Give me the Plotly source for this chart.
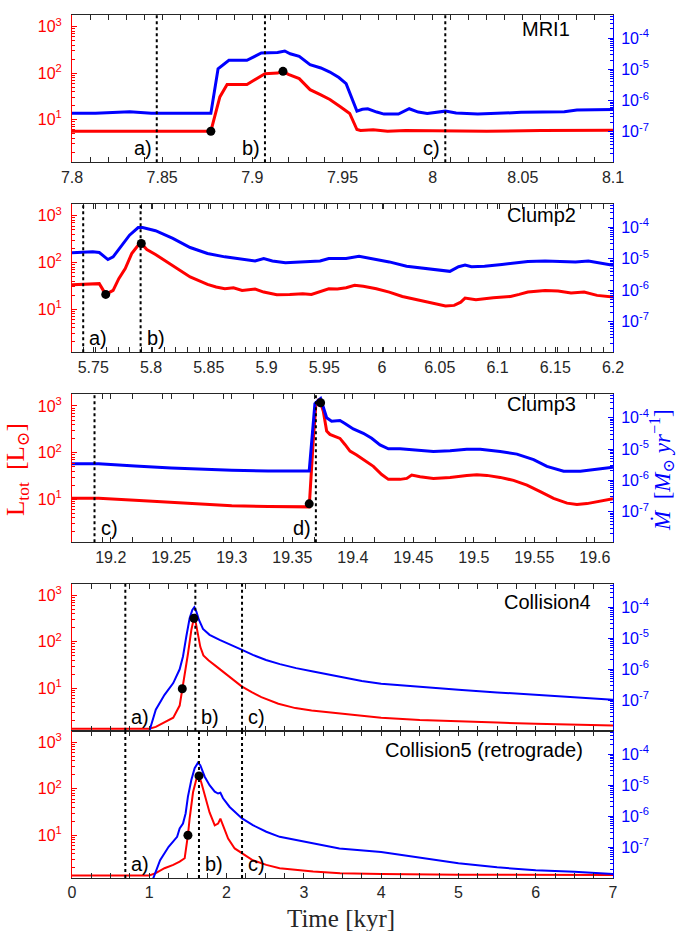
import plotly.graph_objects as go

RED = "#ff0000"
BLUE = "#0000ff"
DARK = "#262626"

# ---------------- data ----------------
# Panel 1: MRI1
t1_L = [7.800, 7.830, 7.860, 7.877, 7.882, 7.886, 7.897, 7.907, 7.914, 7.917, 7.920, 7.926, 7.932,
        7.938, 7.943, 7.949, 7.954, 7.958, 7.960, 7.967, 7.975, 7.985, 8.000, 8.030, 8.060, 8.100]
L1 = [5.6, 5.7, 5.6, 5.6, 30.7, 57, 57, 97, 100, 109, 94, 76, 44,
      34, 27, 18.7, 13.5, 6.1, 5.8, 6.0, 5.6, 5.8, 5.7, 5.6, 5.8, 5.9]
t1_M = [7.800, 7.813, 7.832, 7.844, 7.856, 7.877, 7.881, 7.887, 7.897, 7.905, 7.914, 7.918, 7.921,
        7.926, 7.932, 7.938, 7.943, 7.948, 7.952, 7.955, 7.958, 7.961, 7.964, 7.969, 7.973, 7.981,
        7.987, 7.992, 7.997, 8.007, 8.013, 8.025, 8.049, 8.073, 8.080, 8.100]
M1 = [3.9e-7, 3.9e-7, 4.4e-7, 3.9e-7, 3.9e-7, 3.9e-7, 1.06e-5, 1.97e-5, 1.97e-5, 3.38e-5, 3.5e-5,
      3.92e-5, 3.2e-5, 2.64e-5, 1.43e-5, 1.12e-5, 8.3e-6, 5.5e-6, 3.5e-6, 1.3e-6, 4.6e-7, 5.3e-7,
      5.5e-7, 4.3e-7, 3.7e-7, 3.7e-7, 5.5e-7, 4.3e-7, 3.9e-7, 4.6e-7, 4.0e-7, 3.7e-7, 4.2e-7,
      4.4e-7, 5.0e-7, 5.2e-7]
dots1_t = [7.877, 7.917]
dots1_L = [5.6, 109]
events1_t = [7.847, 7.907, 8.007]
events1_lab = ["a)", "b)", "c)"]
events1_side = ["left", "left", "left"]

# Panel 2: Clump2
t2_L = [5.7316, 5.7496, 5.7552, 5.7608, 5.7672, 5.7721, 5.7777, 5.7833, 5.7889, 5.7916, 5.7964,
        5.8039, 5.8189, 5.8339, 5.8489, 5.8564, 5.8639, 5.8714, 5.8789, 5.8901, 5.8976, 5.9089,
        5.9201, 5.9314, 5.9389, 5.9482, 5.9539, 5.9614, 5.9689, 5.9763, 5.9838, 5.9951, 6.0063,
        6.0176, 6.0326, 6.0438, 6.0550, 6.0625, 6.0682, 6.0719, 6.0775, 6.0813, 6.0963, 6.1113,
        6.1188, 6.1263, 6.1412, 6.1525, 6.1637, 6.1750, 6.1862, 6.2]
L2 = [33.6, 35.3, 35.3, 20.8, 25.3, 45, 74, 155, 234, 255, 189, 148, 87, 49, 34, 29.9, 27.5,
      28.9, 25.3, 27.1, 23.3, 20.5, 20.8, 21.5, 20.8, 25.3, 27.5, 27.1, 28.9, 32.5, 30.9, 27.5,
      23.3, 18.8, 15.5, 13.1, 11.7, 12.1, 14.2, 17.3, 16.3, 16.0, 17.6, 18.8, 20.8, 23.3, 25.3,
      24.5, 22.2, 23.3, 19.8, 18.2]
t2_M = [5.7316, 5.7496, 5.7552, 5.7627, 5.7672, 5.7740, 5.7814, 5.7889, 5.7927, 5.8039, 5.8189,
        5.8339, 5.8489, 5.8639, 5.8789, 5.8901, 5.8976, 5.9051, 5.9164, 5.9314, 5.9389, 5.9464,
        5.9539, 5.9689, 5.9801, 5.9914, 6.0063, 6.0213, 6.0363, 6.0476, 6.0588, 6.0663, 6.0719,
        6.0775, 6.0888, 6.1038, 6.1188, 6.1263, 6.1412, 6.1562, 6.1675, 6.1787, 6.2]
M2 = [1.56e-5, 1.68e-5, 1.6e-5, 9.5e-6, 1.16e-5, 2.43e-5, 5.7e-5, 1.0e-4, 1.0e-4, 7.9e-5, 4.5e-5,
      2.3e-5, 1.48e-5, 1.16e-5, 9.5e-6, 8.6e-6, 1.03e-5, 8.6e-6, 7.5e-6, 8.0e-6, 8.0e-6, 8.6e-6,
      1.03e-5, 1.03e-5, 1.22e-5, 1.03e-5, 8.0e-6, 5.8e-6, 4.9e-6, 4.3e-6, 4.0e-6, 5.6e-6, 6.3e-6,
      5.6e-6, 5.8e-6, 6.6e-6, 7.5e-6, 8.2e-6, 8.6e-6, 8.0e-6, 8.0e-6, 8.6e-6, 6.3e-6]
dots2_t = [5.7608, 5.7916]
dots2_L = [20.8, 255]
events2_t = [5.7413, 5.791]
events2_lab = ["a)", "b)"]
events2_side = ["right", "right"]

# Panel 3: Clump3
t3_L = [19.168, 19.19, 19.22, 19.25, 19.30, 19.33, 19.356, 19.364, 19.3673, 19.3695, 19.3715,
        19.3734, 19.3756, 19.3784, 19.3811, 19.3853, 19.3894, 19.3935, 19.3977, 19.4032, 19.4101,
        19.4170, 19.4239, 19.4294, 19.4391, 19.4446, 19.4487, 19.4556, 19.4666, 19.4804, 19.4942,
        19.5025, 19.5108, 19.5218, 19.5328, 19.5439, 19.5549, 19.5659, 19.5770, 19.5852, 19.5935,
        19.6045, 19.615]
L3 = [10.5, 10.5, 9.6, 8.6, 7.3, 7.0, 6.8, 6.9, 177, 1080, 1315, 1172, 778, 290, 246, 226, 202,
      150, 108, 89, 68, 51, 34, 26.8, 26.8, 28.1, 33.1, 30.5, 28.1, 29.5, 32.6, 33.7, 32.6, 29.5,
      25.5, 20.2, 14.6, 10.5, 8.3, 7.8, 8.1, 9.2, 10.3]
t3_M = [19.168, 19.19, 19.22, 19.25, 19.30, 19.33, 19.364, 19.3673, 19.3687, 19.3715, 19.3734,
        19.3756, 19.3784, 19.3825, 19.3867, 19.3894, 19.3935, 19.4004, 19.4087, 19.4156, 19.4225,
        19.4294, 19.4391, 19.4501, 19.4666, 19.4804, 19.4942, 19.5053, 19.5218, 19.5356, 19.5494,
        19.5604, 19.5742, 19.5880, 19.6045, 19.615]
M3 = [3.4e-6, 3.4e-6, 2.9e-6, 2.5e-6, 2.1e-6, 2.0e-6, 2.0e-6, 5.9e-5, 2.8e-4, 3.6e-4, 4.1e-4,
      2.2e-4, 1.0e-4, 7.8e-5, 7.8e-5, 8.2e-5, 6.6e-5, 4.4e-5, 3.2e-5, 2.2e-5, 1.36e-5, 1.02e-5,
      1.02e-5, 9.5e-6, 8.4e-6, 8.8e-6, 9.9e-6, 9.9e-6, 8.4e-6, 6.9e-6, 4.6e-6, 2.8e-6, 1.95e-6,
      1.95e-6, 2.4e-6, 2.6e-6]
dots3_t = [19.364, 19.3734]
dots3_L = [8.0, 1172]
events3_t = [19.1866, 19.3695]
events3_lab = ["c)", "d)"]
events3_side = ["right", "left"]

# Panel 4: Collision4
t4_L = [0, 1.0, 1.084, 1.197, 1.31, 1.393, 1.427, 1.458, 1.501, 1.544, 1.574, 1.5775, 1.6035,
        1.629, 1.66, 1.70, 1.765, 1.85, 1.937, 2.02, 2.11, 2.195, 2.325, 2.45, 2.67, 2.89, 3.1,
        3.32, 3.45, 3.7, 4.0, 4.5, 5.0, 5.5, 6.0, 6.5, 7.0]
L4 = [1.32, 1.32, 1.45, 1.82, 2.3, 4.2, 9.7, 17, 56, 180, 306, 322, 250, 152, 78, 51, 40, 31,
      24, 18, 14.2, 10.9, 8.2, 6.4, 4.6, 3.7, 3.3, 3.0, 2.86, 2.55, 2.3, 2.05, 1.9, 1.8, 1.7,
      1.62, 1.55]
t4_M = [1.0, 1.084, 1.197, 1.31, 1.393, 1.436, 1.479, 1.522, 1.557, 1.583, 1.609, 1.643, 1.695,
        1.78, 1.91, 2.04, 2.2, 2.34, 2.51, 2.69, 2.9, 3.12, 3.33, 3.46, 3.75, 4.0, 4.5, 5.0, 5.5,
        6.0, 6.5, 7.0]
M4 = [1e-8, 5e-8, 1.5e-7, 3.6e-7, 1.0e-6, 2.6e-6, 1.14e-5, 4.4e-5, 8.2e-5, 1.0e-4, 7.3e-5,
      3.9e-5, 2.0e-5, 1.29e-5, 8.9e-6, 6.2e-6, 4.2e-6, 2.9e-6, 2.0e-6, 1.47e-6, 1.09e-6, 8.5e-7,
      6.7e-7, 5.7e-7, 4.2e-7, 3.4e-7, 2.7e-7, 2.2e-7, 1.8e-7, 1.48e-7, 1.25e-7, 1.05e-7]
dots4_t = [1.427, 1.5775]
dots4_L = [9.7, 322]
events4_t = [0.69, 1.596, 2.2]
events4_lab = ["a)", "b)", "c)"]
events4_side = ["right", "right", "right"]

# Panel 5: Collision5 (retrograde)
t5_L = [0, 1.0, 1.084, 1.197, 1.31, 1.393, 1.458, 1.479, 1.50, 1.522, 1.566, 1.609, 1.643, 1.673,
        1.717, 1.78, 1.847, 1.89, 1.92, 1.954, 2.02, 2.105, 2.2, 2.34, 2.514, 2.687, 3.12, 3.47,
        4.0, 5.0, 7.0]
L5 = [1.36, 1.36, 1.53, 1.95, 2.3, 2.7, 3.2, 5.2, 10, 22.7, 84, 161, 189, 137, 71, 31, 16.4,
      17.8, 22.7, 16.4, 8.5, 5.2, 4.1, 2.9, 2.3, 1.96, 1.66, 1.53, 1.46, 1.41, 1.40]
t5_M = [1.05, 1.14, 1.25, 1.36, 1.393, 1.436, 1.47, 1.50, 1.544, 1.587, 1.63, 1.66, 1.717, 1.78,
        1.847, 1.89, 1.92, 1.954, 2.04, 2.2, 2.34, 2.514, 2.687, 2.9, 3.12, 3.33, 3.46, 4.0, 4.5,
        5.0, 5.5, 6.0, 6.5, 7.0]
M5 = [1e-8, 3.9e-8, 1.05e-7, 2.2e-7, 4.1e-7, 5.9e-7, 1.24e-6, 4.3e-6, 1.46e-5, 3.5e-5, 5.3e-5,
      4.4e-5, 1.87e-5, 1.0e-5, 6.2e-6, 5.4e-6, 5.7e-6, 3.8e-6, 2.0e-6, 8.6e-7, 5.2e-7, 3.2e-7,
      2.2e-7, 1.72e-7, 1.35e-7, 1.05e-7, 9.3e-8, 7.2e-8, 4.8e-8, 3.1e-8, 2.3e-8, 1.86e-8,
      1.65e-8, 1.4e-8]
dots5_t = [1.50, 1.643]
dots5_L = [10, 189]
events5_t = [0.69, 1.643, 2.2]
events5_lab = ["a)", "b)", "c)"]
events5_side = ["right", "right", "right"]

names = ["MRI1", "Clump2", "Clump3", "Collision4", "Collision5 (retrograde)"]

x_ranges = [[7.8, 8.1], [5.7316, 6.2], [19.168, 19.615], [0, 7], [0, 7]]
x_tickvals = [
    [7.8, 7.85, 7.9, 7.95, 8.0, 8.05, 8.1],
    [5.75, 5.8, 5.85, 5.9, 5.95, 6.0, 6.05, 6.1, 6.15, 6.2],
    [19.2, 19.25, 19.3, 19.35, 19.4, 19.45, 19.5, 19.55, 19.6],
    [0, 1, 2, 3, 4, 5, 6, 7],
    [0, 1, 2, 3, 4, 5, 6, 7],
]
x_ticktext = [
    ["7.8", "7.85", "7.9", "7.95", "8", "8.05", "8.1"],
    ["5.75", "5.8", "5.85", "5.9", "5.95", "6", "6.05", "6.1", "6.15", "6.2"],
    ["19.2", "19.25", "19.3", "19.35", "19.4", "19.45", "19.5", "19.55", "19.6"],
    ["0", "1", "2", "3", "4", "5", "6", "7"],
    ["0", "1", "2", "3", "4", "5", "6", "7"],
]
x_minor = [0.01, 0.01, 0.025, 0.25, 0.25]

L_ticks = [10, 100, 1000]
L_ticktext = ["10<sup>1</sup>", "10<sup>2</sup>", "10<sup>3</sup>"]
M_ticks = [1e-7, 1e-6, 1e-5, 1e-4]
M_ticktext = ["10<sup>-7</sup>", "10<sup>-6</sup>", "10<sup>-5</sup>", "10<sup>-4</sup>"]
L_range_log = [0.08, 3.25]
M_range_log = [-7.98, -3.25]

panel_data = [
    (t1_L, L1, t1_M, M1, dots1_t, dots1_L, events1_t, events1_lab, events1_side),
    (t2_L, L2, t2_M, M2, dots2_t, dots2_L, events2_t, events2_lab, events2_side),
    (t3_L, L3, t3_M, M3, dots3_t, dots3_L, events3_t, events3_lab, events3_side),
    (t4_L, L4, t4_M, M4, dots4_t, dots4_L, events4_t, events4_lab, events4_side),
    (t5_L, L5, t5_M, M5, dots5_t, dots5_L, events5_t, events5_lab, events5_side),
]

# ---------------- layout geometry (pixels) ----------------
W, H = 680, 931
ML, MR, MT, MB = 72, 67, 15, 53
plot_h = H - MT - MB
plot_w = W - ML - MR
panel_px = [(14.5, 162.3), (204, 352.3), (394.3, 542.3), (584, 730.7), (730.7, 878.3)]
name_pos = [(0.925, 0.905), (0.936, 0.926), (0.936, 0.934), (0.9635, 0.879), (0.949, 0.869)]
line_w = [3, 3, 3, 2, 2]


def py(y):
    return (H - MB - y) / plot_h


def px(x):
    return (x - ML) / plot_w


def pfrac(y):
    return min(max(py(y), 0.0), 1.0)


def ax_name(kind, n):
    return f"{kind}axis" if n == 1 else f"{kind}axis{n}"


def ax_ref(kind, n):
    return kind if n == 1 else f"{kind}{n}"


L_minor = [k * 10 ** e for e in range(0, 4) for k in range(2, 10)]
M_minor = [k * 10.0 ** e for e in range(-8, -3) for k in range(2, 10)]

fig = go.Figure()
layout = {}
shapes = []
annotations = []

TICKFONT = dict(family="Liberation Sans, Arial, sans-serif", size=16)

for i in range(5):
    p = i + 1
    yl = 2 * i + 1
    yr = 2 * i + 2
    yd = 10 + p
    tL, Lv, tM, Mv, dt, dL, et, elab, eside = panel_data[i]
    top, bot = panel_px[i]
    dom = [pfrac(bot), pfrac(top)]

    xa = dict(
        domain=[0, 1], range=x_ranges[i], anchor=ax_ref("y", yl),
        showline=True, linecolor=DARK, linewidth=1, mirror="allticks",
        ticks="inside", ticklen=5, tickcolor=DARK, tickwidth=1,
        tickmode="array", tickvals=x_tickvals[i], ticktext=x_ticktext[i],
        tickfont=dict(TICKFONT, color=DARK),
        minor=dict(ticks="inside", ticklen=3, tickcolor=DARK, dtick=x_minor[i],
                   tick0=x_ranges[i][0] if i < 3 else 0, showgrid=False),
        showgrid=False, zeroline=False,
    )
    if p == 4:
        xa["showticklabels"] = False
        xa["matches"] = "x5"
    layout[ax_name("x", p)] = xa

    layout[ax_name("y", yl)] = dict(
        domain=dom, type="log", range=L_range_log, anchor=ax_ref("x", p),
        showline=True, linecolor=RED, linewidth=1,
        ticks="inside", ticklen=5, tickcolor=RED,
        tickmode="array", tickvals=L_ticks, ticktext=L_ticktext,
        tickfont=dict(TICKFONT, color=RED), ticklabelstandoff=6,
        minor=dict(tickmode="array", tickvals=L_minor, ticks="inside", ticklen=3,
                   tickcolor=RED, showgrid=False),
        showgrid=False, zeroline=False,
    )
    layout[ax_name("y", yr)] = dict(
        domain=dom, type="log", range=M_range_log, anchor=ax_ref("x", p),
        overlaying=ax_ref("y", yl), side="right",
        showline=True, linecolor=BLUE, linewidth=1,
        ticks="inside", ticklen=5, tickcolor=BLUE,
        tickmode="array", tickvals=M_ticks, ticktext=M_ticktext,
        tickfont=dict(TICKFONT, color=BLUE), ticklabelstandoff=4,
        minor=dict(tickmode="array", tickvals=M_minor, ticks="inside", ticklen=3,
                   tickcolor=BLUE, showgrid=False),
        showgrid=False, zeroline=False,
    )
    layout[ax_name("y", yd)] = dict(
        domain=dom, type="log", range=L_range_log, anchor=ax_ref("x", p),
        overlaying=ax_ref("y", yl), visible=False, showgrid=False, zeroline=False,
    )

    xr = ax_ref("x", p)
    fig.add_trace(go.Scatter(x=tL, y=Lv, mode="lines", line=dict(color=RED, width=line_w[i]),
                             xaxis=xr, yaxis=ax_ref("y", yl), showlegend=False))
    fig.add_trace(go.Scatter(x=tM, y=Mv, mode="lines", line=dict(color=BLUE, width=line_w[i]),
                             xaxis=xr, yaxis=ax_ref("y", yr), showlegend=False))
    fig.add_trace(go.Scatter(x=dt, y=dL, mode="markers",
                             marker=dict(color="black", size=9),
                             xaxis=xr, yaxis=ax_ref("y", yd), showlegend=False))

    ydom = ax_ref("y", yl) + " domain"
    for xv, lab, side in zip(et, elab, eside):
        shapes.append(dict(type="line", xref=xr, yref=ydom, x0=xv, x1=xv, y0=0, y1=1,
                           line=dict(color="black", width=2, dash="dot")))
        annotations.append(dict(
            x=xv, y=0, xref=xr, yref=ydom, text=lab, showarrow=False,
            xanchor="right" if side == "left" else "left", yanchor="bottom",
            xshift=-3 if side == "left" else 4, yshift=1,
            font=dict(family="Liberation Sans, Arial, sans-serif", size=20, color="black"),
        ))

    nx, ny = name_pos[i]
    annotations.append(dict(
        x=nx, y=ny, xref=xr + " domain", yref=ydom, text=names[i], showarrow=False,
        xanchor="right", yanchor="middle",
        font=dict(family="Liberation Sans, Arial, sans-serif", size=20, color="black"),
    ))

# axis titles
annotations.append(dict(
    x=px(17), y=py(470), xref="paper", yref="paper",
    text="L<sub>tot</sub>  [L<sub>⊙</sub>]", textangle=-90, showarrow=False,
    xanchor="center", yanchor="middle",
    font=dict(family="Liberation Serif, DejaVu Serif, serif", size=25, color=RED),
))
annotations.append(dict(
    x=px(661), y=py(470), xref="paper", yref="paper",
    text="<i>Ṁ</i>  [<i>M</i><sub>⊙</sub> <i>yr</i><sup>−1</sup>]", textangle=-90, showarrow=False,
    xanchor="center", yanchor="middle",
    font=dict(family="Liberation Serif, DejaVu Serif, serif", size=23, color=BLUE),
))
annotations.append(dict(
    x=px(341), y=py(918), xref="paper", yref="paper",
    text="Time [kyr]", showarrow=False, xanchor="center", yanchor="middle",
    font=dict(family="Liberation Serif, DejaVu Serif, serif", size=25, color=DARK),
))

fig.update_layout(
    width=W, height=H,
    margin=dict(l=ML, r=MR, t=MT, b=MB),
    paper_bgcolor="white", plot_bgcolor="white",
    showlegend=False,
    shapes=shapes, annotations=annotations,
    **layout,
)

# remove the browser's default page margin so the figure sits at the window origin
fig.write_html("out.html",
               config={"displayModeBar": False},
               post_script="document.body.style.margin='0px';document.body.style.overflow='hidden';")
